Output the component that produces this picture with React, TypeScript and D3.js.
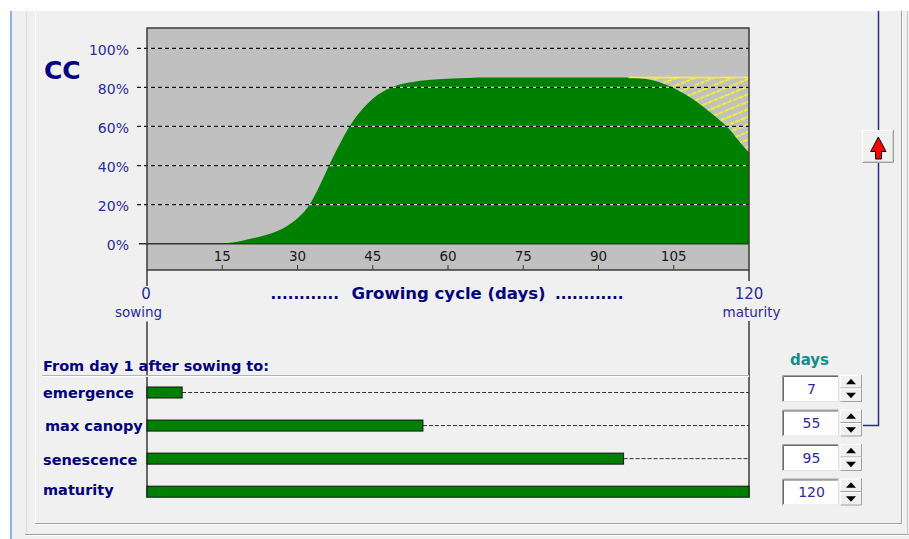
import React from 'react';
import * as d3 from 'd3';

// Canopy cover curve (day after sowing, CC %)
const ccDays = [15, 16, 18, 20, 22, 24, 26, 28, 30, 32, 34, 36, 38, 40, 42, 44, 46, 48, 50, 53, 56, 60, 64, 68, 80, 96, 98, 100, 102, 104, 106, 108, 110, 112, 114, 116, 118, 120];
const ccValues = [0, 0.3, 1.0, 2.1, 3.3, 4.7, 6.5, 9.2, 13, 18.5, 27.5, 38.5, 49, 58.5, 66, 71.8, 76.2, 79.2, 81.2, 82.8, 83.8, 84.4, 84.8, 85, 85, 85, 84.7, 84, 82.8, 80.8, 78.3, 75.3, 71.8, 67.8, 63.5, 58.8, 52.5, 46.5];
const maxCC = 85;
const senescenceStart = 96;
const cycleLength = 120;

const yTicks = [0, 20, 40, 60, 80, 100];
const xTicks = [15, 30, 45, 60, 75, 90, 105];

const stageLabels = ['emergence', 'max canopy', 'senescence', 'maturity'];
const stageDays = [7, 55, 95, 120];

const FONT = 'DejaVu Sans, Verdana, sans-serif';
const NAVY = '#000080';
const BLUE = '#2b2b9c';
const GREEN = '#008000';

function SpinBox({ cy, value }: { cy: number; value: string }) {
  const x0 = 782, w = 57, h = 27;
  const top = cy - h / 2;
  const sx = 840, sw = 22;
  return (
    <g>
      <rect x={x0} y={top} width={w} height={h} fill="#ffffff" />
      <path d={`M${x0 + 0.5},${top + h} V${top + 0.5} H${x0 + w}`} stroke="#a0a0a0" fill="none" />
      <path d={`M${x0 + 1.5},${top + h - 1} V${top + 1.5} H${x0 + w - 1}`} stroke="#696969" fill="none" />
      <path d={`M${x0 + 0.5},${top + h - 0.5} H${x0 + w - 0.5} V${top}`} stroke="#e3e3e3" fill="none" />
      <text x={x0 + w / 2 + 1} y={cy + 5} textAnchor="middle" fontFamily={FONT} fontSize={14} fill={BLUE}>{value}</text>
      {[0, 1].map(k => {
        const by = top + k * (h / 2);
        const bh = h / 2;
        const mid = sx + sw / 2;
        const tri = k === 0
          ? `M${mid - 5},${by + bh / 2 + 2.5} L${mid + 5},${by + bh / 2 + 2.5} L${mid},${by + bh / 2 - 3} Z`
          : `M${mid - 5},${by + bh / 2 - 2.5} L${mid + 5},${by + bh / 2 - 2.5} L${mid},${by + bh / 2 + 3} Z`;
        return (
          <g key={k}>
            <rect x={sx} y={by} width={sw} height={bh} fill="#f0f0f0" />
            <path d={`M${sx + 0.5},${by + bh} V${by + 0.5} H${sx + sw}`} stroke="#ffffff" fill="none" />
            <path d={`M${sx + 0.5},${by + bh - 0.5} H${sx + sw - 0.5} V${by}`} stroke="#a0a0a0" fill="none" />
            <path d={tri} fill="#000000" />
          </g>
        );
      })}
    </g>
  );
}

export default function App() {
  const x = d3.scaleLinear().domain([0, cycleLength]).range([147, 749]);
  const y = d3.scaleLinear().domain([0, 100]).range([243.7, 48.3]);
  const pts: [number, number][] = ccDays.map((d, i) => [d, ccValues[i]]);
  const area = d3.area<[number, number]>()
    .x(d => x(d[0]))
    .y0(y(0))
    .y1(d => y(d[1]))
    .curve(d3.curveMonotoneX);
  const row = d3.scalePoint<string>().domain(stageLabels).range([392.5, 491.7]);
  const spinRow = d3.scalePoint<string>().domain(stageLabels).range([388.5, 492]);
  const labelShift = [5.5, 5.5, 6.5, 3.5];

  const plotTop = 28, stripBottom = 270;

  return (
    <svg width={909} height={539} style={{ position: 'absolute', left: 0, top: 0 }} xmlns="http://www.w3.org/2000/svg">
      <defs>
        <pattern id="hatch" patternUnits="userSpaceOnUse" width={12} height={7} patternTransform="rotate(-22)">
          <line x1={0} y1={3.5} x2={12} y2={3.5} stroke="#ffff00" strokeWidth={1.6} strokeDasharray="5,1" />
        </pattern>
        <clipPath id="plotclip">
          <rect x={x(0)} y={plotTop} width={x(cycleLength) - x(0)} height={y(0) - plotTop} />
        </clipPath>
      </defs>

      {/* window background */}
      <rect x={0} y={0} width={909} height={539} fill="#ffffff" />
      <rect x={12} y={11} width={897} height={528} fill="#f0f0f0" />
      <line x1={11} y1={11} x2={11} y2={539} stroke="#8db2dd" strokeWidth={2} />
      <line x1={26.5} y1={11} x2={26.5} y2={534} stroke="#dadada" />
      <line x1={35.5} y1={11} x2={35.5} y2={523} stroke="#ffffff" />
      <line x1={35} y1={523.5} x2={902} y2={523.5} stroke="#a0a0a0" />
      <line x1={35} y1={524.5} x2={903} y2={524.5} stroke="#ffffff" />
      <line x1={901.5} y1={11} x2={901.5} y2={524} stroke="#a0a0a0" />
      <line x1={902.5} y1={11} x2={902.5} y2={525} stroke="#ffffff" />
      <line x1={25} y1={534.5} x2={909} y2={534.5} stroke="#a0a0a0" />
      <line x1={25} y1={535.5} x2={909} y2={535.5} stroke="#ffffff" />
      <line x1={907.5} y1={11} x2={907.5} y2={535} stroke="#c8c8c8" />

      {/* CC title */}
      <text x={44} y={79} fontFamily={FONT} fontWeight="bold" fontSize={25} fill={NAVY}>CC</text>

      {/* plot background */}
      <rect x={x(0)} y={plotTop} width={x(cycleLength) - x(0)} height={stripBottom - plotTop} fill="#c0c0c0" />

      {/* hatched senescence loss region */}
      <rect x={x(senescenceStart)} y={y(maxCC)} width={x(cycleLength) - x(senescenceStart)} height={y(0) - y(maxCC)} fill="url(#hatch)" />
      <path d={area(pts) || ''} fill={GREEN} clipPath="url(#plotclip)" />
      <line x1={x(senescenceStart)} y1={y(maxCC)} x2={x(cycleLength)} y2={y(maxCC)} stroke="#ffff00" strokeWidth={1.5} />

      {/* gridlines and y labels */}
      {yTicks.map(t => (
        <g key={t}>
          {t > 0 ? (
            <>
              <line x1={x(0)} y1={y(t)} x2={x(cycleLength)} y2={y(t)} stroke="#d0d0d0" strokeWidth={1.2} />
              <line x1={137} y1={y(t)} x2={x(cycleLength)} y2={y(t)} stroke="#111111" strokeWidth={1.3} strokeDasharray="4,3" />
            </>
          ) : (
            <line x1={139} y1={y(t)} x2={x(cycleLength)} y2={y(t)} stroke="#333333" strokeWidth={1.5} />
          )}
          <text x={129} y={y(t) + 6.5} textAnchor="end" fontFamily={FONT} fontSize={14} fill={BLUE}>{t}%</text>
        </g>
      ))}

      {/* x ticks in strip */}
      {xTicks.map(t => (
        <g key={t}>
          <line x1={x(t)} y1={265} x2={x(t)} y2={stripBottom} stroke="#333333" />
          <text x={x(t)} y={261} textAnchor="middle" fontFamily={FONT} fontSize={13.5} fill="#1a1a1a">{t}</text>
        </g>
      ))}

      {/* plot border */}
      <rect x={x(0)} y={plotTop} width={x(cycleLength) - x(0)} height={stripBottom - plotTop} fill="none" stroke="#3a3a3a" strokeWidth={1.5} />

      {/* growing cycle axis */}
      <line x1={x(0)} y1={stripBottom} x2={x(0)} y2={286} stroke="#3a3a3a" strokeWidth={1.5} />
      <line x1={x(cycleLength)} y1={stripBottom} x2={x(cycleLength)} y2={281} stroke="#3a3a3a" strokeWidth={1.5} />
      <line x1={x(0)} y1={321.5} x2={x(0)} y2={497.5} stroke="#3a3a3a" strokeWidth={1.5} />
      <line x1={x(cycleLength)} y1={321} x2={x(cycleLength)} y2={497.5} stroke="#3a3a3a" strokeWidth={1.5} />
      <text x={x(0) - 1} y={299} textAnchor="middle" fontFamily={FONT} fontSize={15} fill={BLUE}>0</text>
      <text x={x(cycleLength)} y={299} textAnchor="middle" fontFamily={FONT} fontSize={15} fill={BLUE}>{cycleLength}</text>
      <text x={138.5} y={317} textAnchor="middle" fontFamily={FONT} fontSize={13.5} fill={BLUE}>sowing</text>
      <text x={751.5} y={317} textAnchor="middle" fontFamily={FONT} fontSize={13.5} fill={BLUE}>maturity</text>
      <text x={339} y={299} textAnchor="end" fontFamily={FONT} fontWeight="bold" fontSize={15} fill={NAVY}>............</text>
      <text x={448.5} y={299} textAnchor="middle" fontFamily={FONT} fontWeight="bold" fontSize={16.5} fill={NAVY}>Growing cycle (days)</text>
      <text x={555} y={299} textAnchor="start" fontFamily={FONT} fontWeight="bold" fontSize={15} fill={NAVY}>............</text>

      {/* stage bars */}
      <text x={43} y={370.5} fontFamily={FONT} fontWeight="bold" fontSize={14.5} fill={NAVY}>From day 1 after sowing to:</text>
      <line x1={42} y1={375.5} x2={x(cycleLength)} y2={375.5} stroke="#b4b4b4" />
      <line x1={42} y1={376.5} x2={x(cycleLength)} y2={376.5} stroke="#ffffff" />
      {stageLabels.map((s, i) => {
        const cy = row(s) as number;
        const d = stageDays[i];
        return (
          <g key={s}>
            {d < cycleLength && (
              <line x1={x(d)} y1={cy} x2={x(cycleLength)} y2={cy} stroke="#333333" strokeDasharray="4,2" />
            )}
            <rect x={x(0)} y={cy - 5.5} width={x(d) - x(0)} height={11} fill={GREEN} stroke="#111111" strokeWidth={1} />
            <text x={i === 1 ? 45 : 43} y={cy + labelShift[i]} fontFamily={FONT} fontWeight="bold" fontSize={14.5} fill={NAVY}>{s}</text>
          </g>
        );
      })}

      {/* days spin boxes */}
      <text x={809.5} y={365} textAnchor="middle" fontFamily={FONT} fontWeight="bold" fontSize={15} fill="#138c8c">days</text>
      {stageLabels.map((s, i) => (
        <SpinBox key={s} cy={spinRow(s) as number} value={String(stageDays[i])} />
      ))}

      {/* connector line and arrow button */}
      <path d={`M878.5,11 V${(spinRow('max canopy') as number) + 2.5} H863`} stroke="#2a2a9a" strokeWidth={1.5} fill="none" />
      <rect x={862} y={130} width={32} height={33} fill="#f0f0f0" />
      <path d="M862.5,163 V130.5 H894" stroke="#ffffff" fill="none" />
      <path d="M862.5,162.5 H893.5 V130" stroke="#a0a0a0" fill="none" />
      <path d="M863.5,161.5 H892.5 V131" stroke="#d0d0d0" fill="none" />
      <path d="M878.3,137 L886,151.5 L881.5,151.5 L881.5,159 L875.5,159 L875.5,151.5 L870.7,151.5 Z" fill="#ff0000" stroke="#000000" strokeWidth={1} strokeLinejoin="miter" />
    </svg>
  );
}
